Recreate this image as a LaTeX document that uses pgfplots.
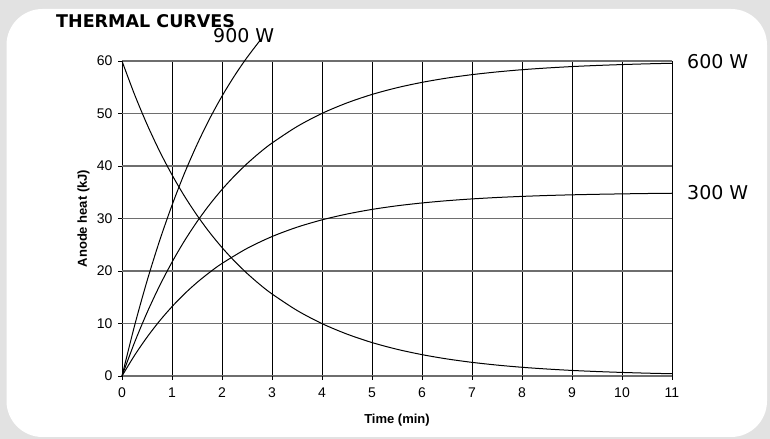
\documentclass[border=0pt]{standalone}
\usepackage{pgfplots}
\pgfplotsset{compat=1.18}
\usepackage{fontspec}
\setmainfont{Liberation Sans}
\newfontfamily\dejavu{DejaVu Sans}

\definecolor{bggray}{RGB}{226,226,226}
\definecolor{gridgray}{RGB}{110,110,110}

\begin{document}
\begin{tikzpicture}
\useasboundingbox (0,0) rectangle (770bp,439bp);
\fill[bggray] (0,0) rectangle (770bp,439bp);
\fill[white, rounded corners=36bp] (6.5bp,2bp) rectangle (767bp,430bp);

\begin{axis}[
	at={(122bp,63bp)}, anchor=south west,
	scale only axis,
	width=550bp, height=315bp,
	xmin=0, xmax=11,
	ymin=0, ymax=60,
	xtick={0,1,...,11},
	ytick={0,10,...,60},
	grid=major,
	x grid style={black, line width=0.8bp},
	y grid style={gridgray, line width=1.5bp},
	axis line style={draw=none},
	tick pos=left,
	tick align=outside,
	major tick length=4bp,
	tick style={black, line width=0.8bp},
	tick label style={font=\fontsize{14bp}{16bp}\selectfont},
	xticklabel style={yshift=-4bp},
	yticklabel style={xshift=-2bp},
	/pgf/number format/assume math mode=true,
	clip=false,
]
% cooling curve
\addplot[black, line width=1bp, smooth] coordinates {
	(0,60)(0.25,53.64)(0.5,47.95)(0.75,42.86)(1,38.32)(1.25,34.25)(1.5,30.62)
	(1.75,27.37)(2,24.47)(2.25,21.88)(2.5,19.56)(2.75,17.48)(3,15.63)(3.5,12.49)
	(4,9.98)(4.5,7.98)(5,6.37)(5.5,5.09)(6,4.07)(6.5,3.25)(7,2.60)(7.5,2.08)
	(8,1.66)(8.5,1.33)(9,1.06)(9.5,0.85)(10,0.68)(10.5,0.54)(11,0.43)
};
% 300 W
\addplot[black, line width=1bp, smooth] coordinates {
	(0,0)(0.25,3.91)(0.5,7.38)(0.75,10.47)(1,13.21)(1.25,15.65)(1.5,17.81)
	(1.75,19.72)(2,21.44)(2.5,24.30)(3,26.56)(3.5,28.34)(4,29.74)(4.5,30.85)
	(5,31.73)(5.5,32.42)(6,32.96)(6.5,33.39)(7,33.73)(7.5,34.00)(8,34.21)
	(8.5,34.38)(9,34.51)(9.5,34.61)(10,34.69)(10.5,34.76)(11,34.81)
};
% 600 W
\addplot[black, line width=1bp, smooth] coordinates {
	(0,0)(0.25,6.36)(0.5,12.05)(0.75,17.14)(1,21.68)(1.25,25.75)(1.5,29.38)
	(1.75,32.63)(2,35.53)(2.25,38.12)(2.5,40.44)(2.75,42.52)(3,44.37)(3.5,47.51)
	(4,50.02)(4.5,52.02)(5,53.63)(5.5,54.91)(6,55.93)(6.5,56.75)(7,57.40)
	(7.5,57.92)(8,58.34)(8.5,58.67)(9,58.94)(9.5,59.15)(10,59.32)(10.5,59.46)
	(11,59.57)
};
% 900 W
\addplot[black, line width=1bp, smooth] coordinates {
	(0,0)(0.25,9.54)(0.5,18.08)(0.75,25.71)(1,32.52)(1.25,38.63)(1.5,44.07)
	(1.75,48.95)(2,53.30)(2.25,57.18)(2.5,60.66)(2.8,64.4)
};
\end{axis}

\node[anchor=base west, inner sep=0pt] at (56bp,411.7bp)
	{\dejavu\bfseries\fontsize{17.5bp}{20bp}\selectfont THERMAL CURVES};
\node[anchor=base west, inner sep=0pt] at (213bp,396bp)
	{\dejavu\fontsize{19bp}{22bp}\selectfont 900 W};
\node[anchor=base west, inner sep=0pt] at (687bp,370bp)
	{\dejavu\fontsize{19bp}{22bp}\selectfont 600 W};
\node[anchor=base west, inner sep=0pt] at (687bp,239bp)
	{\dejavu\fontsize{19bp}{22bp}\selectfont 300 W};
\node[anchor=base, inner sep=0pt] at (397bp,16bp)
	{\bfseries\fontsize{13bp}{15bp}\selectfont Time (min)};
\node[rotate=90, inner sep=0pt] at (83.5bp,220.5bp)
	{\bfseries\fontsize{13bp}{15bp}\selectfont Anode heat (kJ)};
\end{tikzpicture}
\end{document}
